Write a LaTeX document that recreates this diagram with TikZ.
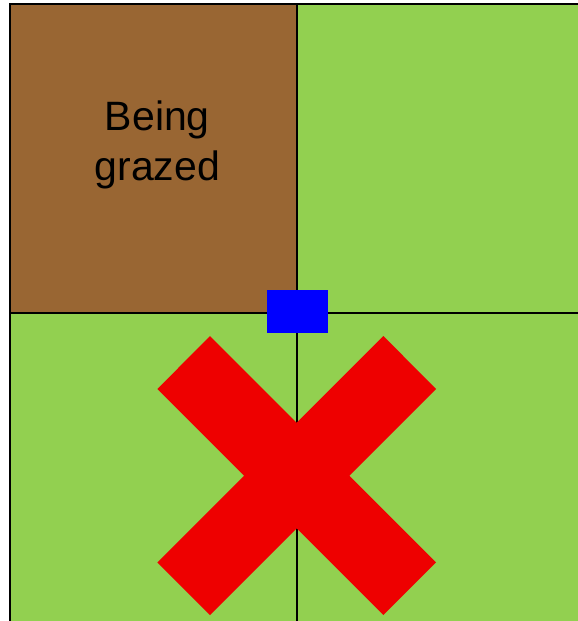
\documentclass[tikz,border=0pt]{standalone}
\usepackage{fontspec}
\setmainfont{Liberation Sans}
\usepackage{xcolor}
\definecolor{grazed}{HTML}{996633}
\definecolor{grass}{HTML}{92D050}
\definecolor{animal}{HTML}{0000FF}
\definecolor{cross}{HTML}{EE0000}

\begin{document}
\begin{tikzpicture}[
    x=1pt, y=-1pt,
    cell/.style={draw=black, line width=2pt},
    mark label/.style={align=center, font=\fontsize{41}{50}\selectfont},
]
\useasboundingbox (0,0) rectangle (578,621);
\clip (0,0) rectangle (578,621);

% Grid of paddocks
\filldraw[cell, fill=grazed] (9.5,3.5) rectangle (297,313);
\filldraw[cell, fill=grass] (297,3.5) rectangle (640,313);
\filldraw[cell, fill=grass] (9.5,313) rectangle (297,680);
\filldraw[cell, fill=grass] (297,313) rectangle (640,680);

\node[mark label] (label) at (157.3,145) {Being\\grazed};

% Red cross
\fill[cross] (210,336) -- (296.7,422.7) -- (383.4,336) -- (436,389)
    -- (349.3,475.7) -- (436,562.4) -- (383.4,615) -- (296.7,528.3)
    -- (210,615) -- (157.4,562.4) -- (244.1,475.7) -- (157.4,389) -- cycle;

% Animal
\node[fill=animal, minimum width=61pt, minimum height=43pt, inner sep=0pt] (herd) at (297.5,311.6) {};

\end{tikzpicture}
\end{document}
